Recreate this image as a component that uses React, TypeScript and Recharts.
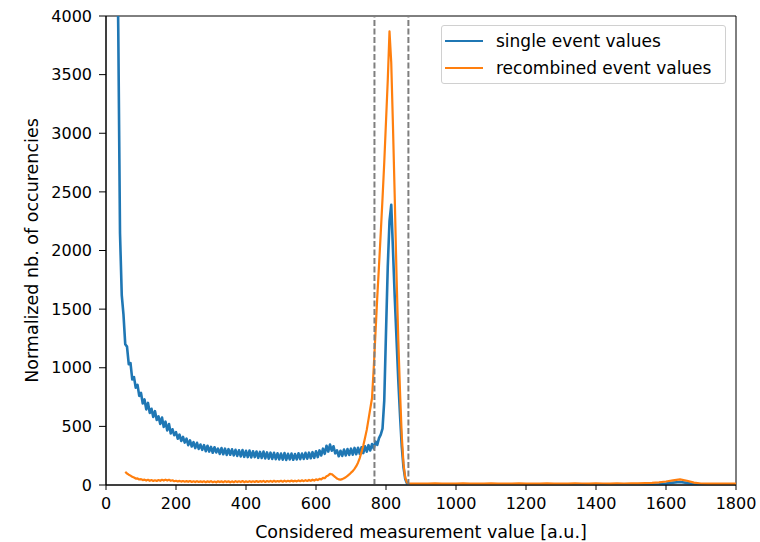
import React from 'react';
import { LineChart, Line, XAxis, YAxis, ReferenceLine, ReferenceArea, Label } from 'recharts';

// measurement value (a.u.) - fine steps up to the peak, coarser in the flat tail
const xValues = [
  30, 35, 40, 45, 50, 55, 60, 65, 70, 75,
  80, 85, 90, 95, 100, 105, 110, 115, 120, 125,
  130, 135, 140, 145, 150, 155, 160, 165, 170, 175,
  180, 185, 190, 195, 200, 205, 210, 215, 220, 225,
  230, 235, 240, 245, 250, 255, 260, 265, 270, 275,
  280, 285, 290, 295, 300, 305, 310, 315, 320, 325,
  330, 335, 340, 345, 350, 355, 360, 365, 370, 375,
  380, 385, 390, 395, 400, 405, 410, 415, 420, 425,
  430, 435, 440, 445, 450, 455, 460, 465, 470, 475,
  480, 485, 490, 495, 500, 505, 510, 515, 520, 525,
  530, 535, 540, 545, 550, 555, 560, 565, 570, 575,
  580, 585, 590, 595, 600, 605, 610, 615, 620, 625,
  630, 635, 640, 645, 650, 655, 660, 665, 670, 675,
  680, 685, 690, 695, 700, 705, 710, 715, 720, 725,
  730, 735, 740, 745, 750, 755, 760, 765, 770, 775,
  780, 785, 790, 795, 800, 805, 810, 815, 820, 825,
  830, 835, 840, 845, 850, 855, 860, 865, 870, 875,
  880, 900, 920, 940, 960, 980, 1000, 1020, 1040, 1060,
  1080, 1100, 1120, 1140, 1160, 1180, 1200, 1220, 1240, 1260,
  1280, 1300, 1320, 1340, 1360, 1380, 1400, 1420, 1440, 1460,
  1480, 1500, 1520, 1540, 1560, 1580, 1600, 1620, 1640, 1660,
  1680, 1700, 1720, 1740, 1760, 1780, 1800,
];

const singleValues = [
  5200, 3900, 2150, 1620, 1450, 1200, 1180, 1030, 1040, 900,
  920, 830, 855, 760, 785, 695, 730, 645, 700, 615,
  650, 580, 630, 555, 585, 520, 575, 495, 540, 465,
  520, 440, 475, 425, 450, 395, 430, 375, 410, 362,
  395, 340, 380, 328, 365, 315, 360, 308, 345, 300,
  340, 288, 335, 285, 325, 275, 322, 278, 310, 265,
  315, 262, 310, 256, 306, 258, 304, 252, 300, 248,
  296, 244, 298, 240, 292, 238, 294, 235, 288, 238,
  286, 232, 282, 230, 286, 226, 278, 224, 276, 222,
  274, 220, 270, 218, 268, 216, 272, 214, 266, 218,
  268, 215, 264, 218, 270, 220, 268, 222, 274, 224,
  276, 228, 280, 232, 288, 238, 295, 252, 310, 266,
  335, 285, 345, 292, 330, 270, 296, 245, 292, 248,
  302, 252, 306, 256, 310, 258, 316, 262, 318, 266,
  322, 272, 330, 284, 340, 294, 350, 312, 370, 342,
  400, 430, 480, 720, 1300, 1860, 2250, 2390, 2000, 1600,
  1250, 900, 600, 330, 150, 50, 12, 3, 1, 0,
  0, 0, 1, 0, 0, 1, 0, 0, 1, 0,
  0, 0, 1, 0, 0, 1, 0, 0, 1, 0,
  0, 1, 0, 0, 1, 0, 0, 1, 0, 1,
  1, 1, 2, 2, 3, 6, 12, 20, 25, 18,
  6, 2, 1, 1, 0, 1, 0,
];

const recombinedValues = [
  null, null, null, null, null, 112, 98, 88, 80, 70,
  64, 55, 56, 47, 50, 42, 46, 38, 44, 36,
  42, 35, 40, 34, 42, 36, 44, 38, 46, 38,
  44, 36, 40, 32, 36, 30, 35, 29, 34, 28,
  33, 27, 34, 26, 32, 25, 33, 26, 31, 25,
  32, 24, 31, 25, 33, 24, 30, 23, 32, 25,
  31, 24, 33, 25, 32, 23, 31, 24, 33, 25,
  32, 25, 34, 24, 31, 26, 33, 25, 32, 26,
  34, 26, 33, 27, 35, 26, 34, 28, 35, 27,
  36, 28, 34, 29, 36, 28, 37, 29, 36, 30,
  38, 30, 37, 31, 39, 32, 40, 33, 41, 34,
  43, 36, 45, 38, 48, 42, 52, 48, 60, 58,
  75, 82, 95, 92, 80, 68, 55, 48, 46, 50,
  58, 66, 78, 90, 105, 118, 138, 160, 190, 230,
  280, 335, 400, 470, 560, 650, 740, 1000, 1300, 1600,
  1870, 2150, 2440, 2750, 3100, 3450, 3870, 3600, 3050, 2450,
  1800, 1250, 800, 420, 180, 60, 20, 12, 13, 11,
  12, 13, 11, 14, 12, 13, 11, 14, 12, 13,
  12, 14, 11, 13, 12, 14, 12, 13, 11, 14,
  12, 13, 12, 14, 13, 12, 14, 13, 12, 14,
  13, 15, 14, 16, 18, 22, 30, 40, 48, 36,
  20, 13, 12, 11, 12, 11, 12,
];

const xTicks = [0, 200, 400, 600, 800, 1000, 1200, 1400, 1600, 1800];
const yTicks = [0, 500, 1000, 1500, 2000, 2500, 3000, 3500, 4000];
const windowEdges = [767, 864];

const data = xValues.map((x, i) => ({
  x,
  single: singleValues[i],
  recombined: recombinedValues[i],
}));

const font = "'DejaVu Sans', sans-serif";
const BLUE = '#1f77b4';
const ORANGE = '#ff7f0e';

const LegendBox = () => (
  <div
    style={{
      position: 'absolute', left: 441, top: 25, width: 283, height: 57,
      border: '1px solid #d0d0d0', borderRadius: 3, background: 'rgba(255,255,255,0.8)',
      fontFamily: font, fontSize: 17, color: '#000',
    }}
  >
    {[
      { name: 'single event values', color: BLUE },
      { name: 'recombined event values', color: ORANGE },
    ].map((item, i) => (
      <div key={item.name} style={{ position: 'absolute', left: 0, top: 4 + i * 27, height: 22, display: 'flex', alignItems: 'center' }}>
        <div style={{ width: 38, height: 2, background: item.color, marginLeft: 3, marginRight: 13 }} />
        <span style={{ whiteSpace: 'nowrap' }}>{item.name}</span>
      </div>
    ))}
  </div>
);

export default function App() {
  return (
    <div style={{ position: 'absolute', left: 0, top: 0, width: 760, height: 542, background: '#fff' }}>
      <LineChart width={760} height={542} data={data} margin={{ top: 16, right: 24, bottom: 0, left: 0 }} style={{ fontFamily: font }}>
        <XAxis
          dataKey="x" type="number" domain={[0, 1800]} ticks={xTicks} interval={0}
          height={57} tickSize={5} tickMargin={8} stroke="#000"
          tick={{ fill: '#000', fontSize: 16 }}
        >
          <Label value="Considered measurement value [a.u.]" position="insideBottom" offset={4} style={{ fontSize: 17.5, fill: '#000' }} />
        </XAxis>
        <YAxis
          type="number" domain={[0, 4000]} ticks={yTicks} interval={0} allowDataOverflow
          width={106} tickSize={7} tickMargin={7} stroke="#000"
          tick={{ fill: '#000', fontSize: 16 }}
        >
          <Label value="Normalized nb. of occurencies" angle={-90} position="insideLeft" offset={32} style={{ fontSize: 17.5, fill: '#000', textAnchor: 'middle' }} />
        </YAxis>
        <Line type="linear" dataKey="single" stroke={BLUE} strokeWidth={2.6} strokeLinejoin="round" dot={false} isAnimationActive={false} />
        <Line type="linear" dataKey="recombined" stroke={ORANGE} strokeWidth={2.2} strokeLinejoin="round" dot={false} isAnimationActive={false} />
        {windowEdges.map((v) => (
          <ReferenceLine key={v} x={v} stroke="#7f7f7f" strokeWidth={2} strokeDasharray="6 2.5" />
        ))}
        <ReferenceArea x1={0} x2={1800} y1={0} y2={4000} fill="none" stroke="#000" strokeWidth={1} />
      </LineChart>
      <LegendBox />
    </div>
  );
}
